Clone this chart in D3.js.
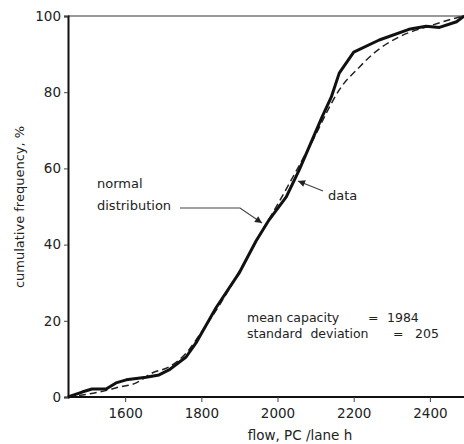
<!DOCTYPE html>
<html>
<head>
  <meta charset="utf-8">
  <title>cumulative frequency of capacity</title>
  <style>
    body { margin: 0; background: #fff; }
    text { font-family: "DejaVu Sans", sans-serif; fill: #222; white-space: pre; }
  </style>
</head>
<body>
<svg width="464" height="444"></svg>
<script src="https://d3js.org/d3.v7.min.js"></script>
<script>
// data
var flowData = [1450, 1487, 1513, 1550, 1576, 1603, 1655, 1689, 1715, 1760, 1786, 1839, 1899, 1944, 1978, 2023, 2057, 2091, 2117, 2141, 2162, 2200, 2267, 2345, 2390, 2425, 2470, 2490];
var pctData  = [0, 1.3, 2.1, 2.1, 3.7, 4.5, 5.2, 5.8, 7.1, 10.5, 14.2, 23.5, 32.5, 41, 46.5, 52.5, 59.6, 67.5, 73.5, 78.7, 85, 90.5, 93.7, 96.5, 97.3, 97, 98.5, 100];

var flowNormal = [1450, 1532, 1584, 1629, 1671, 1715, 1760, 1800, 1850, 1900, 1950, 2000, 2050, 2101, 2128, 2162, 2214, 2250, 2319, 2406, 2469, 2490];
var pctNormal  = [0, 1.3, 2.6, 3.7, 6.3, 7.9, 11.5, 17, 24.5, 33, 42, 50.5, 59.5, 69, 74.5, 80.6, 86.5, 90, 94.5, 97.6, 99.5, 100];

var xTicks = [1600, 1800, 2000, 2200, 2400];
var yTicks = [0, 20, 40, 60, 80, 100];

var svg = d3.select("svg");

var x = d3.scaleLinear().domain([1450, 2500]).range([68, 468]);
var y = d3.scaleLinear().domain([0, 100]).range([397, 16]);

// top frame line
svg.append("line")
  .attr("x1", 68).attr("x2", 464).attr("y1", y(100)).attr("y2", y(100))
  .attr("stroke", "#777").attr("stroke-width", 1.5);

// axes
var xAxis = svg.append("g")
  .attr("transform", "translate(0," + y(0) + ")")
  .call(d3.axisBottom(x).tickValues(xTicks).tickSize(5).tickPadding(6).tickFormat(d3.format("d")));
var yAxis = svg.append("g")
  .attr("transform", "translate(" + x(1450) + ",0)")
  .call(d3.axisLeft(y).tickValues(yTicks).tickSize(4).tickPadding(3).tickFormat(d3.format("d")));

[xAxis, yAxis].forEach(function(g) {
  g.select(".domain").attr("stroke", "#111").attr("stroke-width", 2);
  g.selectAll(".tick line").attr("stroke", "#444").attr("stroke-width", 1);
  g.selectAll(".tick text").attr("font-size", 13.5).attr("fill", "#222")
    .attr("font-family", "DejaVu Sans Condensed, DejaVu Sans, sans-serif");
});
xAxis.select(".domain").attr("d", "M68,0H464");

// axis titles
svg.append("text")
  .attr("transform", "translate(24,207) rotate(-90)")
  .attr("text-anchor", "middle").attr("font-size", 13)
  .text("cumulative frequency, %");
svg.append("text")
  .attr("x", 300).attr("y", 440)
  .attr("text-anchor", "middle").attr("font-size", 13.5)
  .text("flow, PC /lane h");

var smooth = d3.line()
  .x(function(d) { return x(d[0]); })
  .y(function(d) { return y(d[1]); })
  .curve(d3.curveMonotoneX);
var straight = d3.line()
  .x(function(d) { return x(d[0]); })
  .y(function(d) { return y(d[1]); });

// normal distribution (dashed)
svg.append("path")
  .datum(d3.zip(flowNormal, pctNormal))
  .attr("d", smooth)
  .attr("fill", "none").attr("stroke", "#222")
  .attr("stroke-width", 1.5).attr("stroke-dasharray", "7,4");

// observed data (thick)
svg.append("path")
  .datum(d3.zip(flowData, pctData))
  .attr("d", straight)
  .attr("fill", "none").attr("stroke", "#111")
  .attr("stroke-width", 3).attr("stroke-linejoin", "round");

// arrow head
svg.append("defs").append("marker")
  .attr("id", "arr").attr("viewBox", "0 0 10 10")
  .attr("refX", 10).attr("refY", 5)
  .attr("markerWidth", 9).attr("markerHeight", 7)
  .attr("orient", "auto-start-reverse")
  .attr("markerUnits", "userSpaceOnUse")
  .append("path").attr("d", "M0,0L10,5L0,10z").attr("fill", "#222");

// annotations
svg.append("text").attr("x", 97).attr("y", 188).attr("font-size", 13).text("normal");
svg.append("text").attr("x", 97).attr("y", 210).attr("font-size", 13).text("distribution");
svg.append("path")
  .attr("d", "M180,208H240L262,223")
  .attr("fill", "none").attr("stroke", "#444").attr("stroke-width", 1.2)
  .attr("marker-end", "url(#arr)");

svg.append("text").attr("x", 328).attr("y", 200).attr("font-size", 13).text("data");
svg.append("path")
  .attr("d", "M323,191L298,181")
  .attr("fill", "none").attr("stroke", "#444").attr("stroke-width", 1.2)
  .attr("marker-end", "url(#arr)");

var notes = svg.append("g").attr("font-size", 12.5);
notes.append("text").attr("x", 247).attr("y", 322).text("mean capacity");
notes.append("text").attr("x", 368).attr("y", 322).text("=");
notes.append("text").attr("x", 387).attr("y", 322).text("1984");
notes.append("text").attr("x", 247).attr("y", 338).text("standard  deviation");
notes.append("text").attr("x", 393).attr("y", 338).text("=");
notes.append("text").attr("x", 415).attr("y", 338).text("205");
</script>
</body>
</html>
